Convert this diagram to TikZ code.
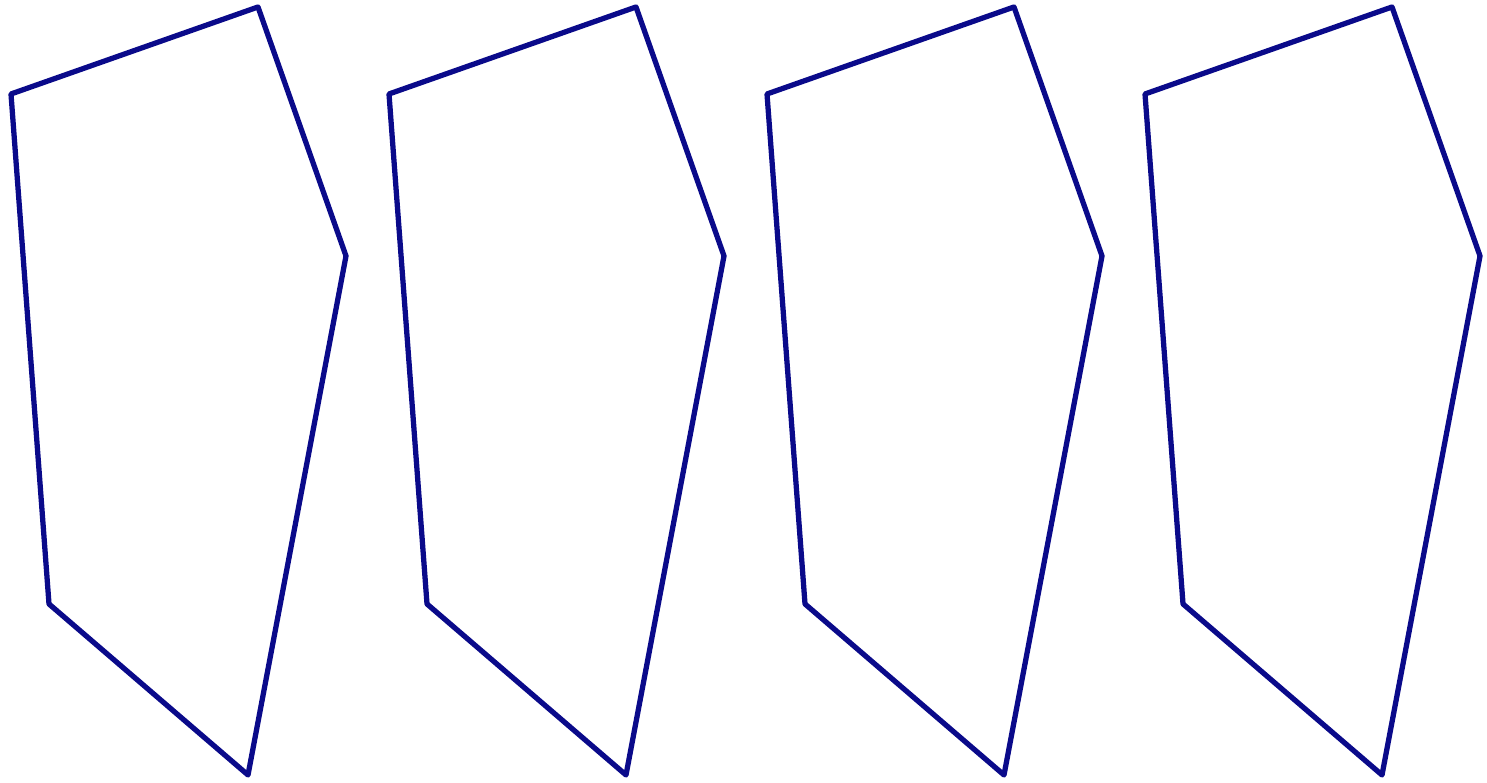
\documentclass[tikz,border=0pt]{standalone}
\definecolor{edgeC}{HTML}{0A0A8A}
\tikzset{
  pent/.style={draw=edgeC, line width=1.5pt, line join=round},
}
\begin{document}
\begin{tikzpicture}
\useasboundingbox (0,0) rectangle (14.87,7.83);
% four copies of the same pentagon
\foreach \dx in {0,3.78,7.56,11.34}{
  \draw[pent, xshift=\dx cm] (0.11,6.89) -- (2.58,7.76) -- (3.46,5.27)
    -- (2.48,0.08) -- (0.49,1.79) -- cycle;
}
\end{tikzpicture}
\end{document}
